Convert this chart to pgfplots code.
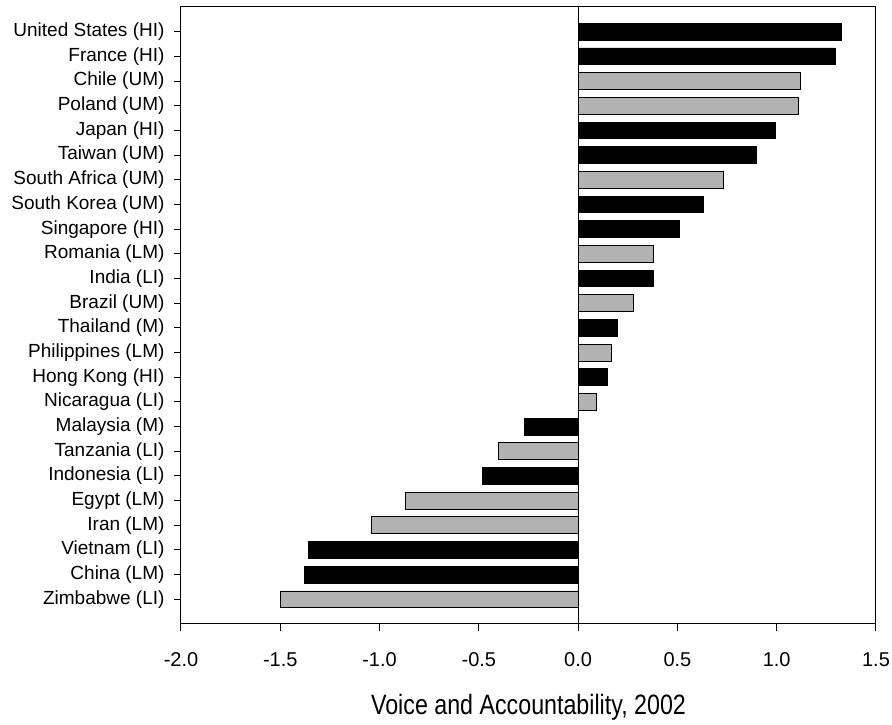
\documentclass[border=0pt]{standalone}
\usepackage{pgfplots}
\pgfplotsset{compat=1.18}
\usepackage{fontspec}
\setmainfont{Liberation Sans}
\newfontfamily\narrowfont{Liberation Sans}[FakeStretch=0.83]
\definecolor{bargray}{RGB}{178,178,178}
\begin{document}
\begin{tikzpicture}
\useasboundingbox (-181pt,-101pt) rectangle (711pt,624pt);
\begin{axis}[
  at={(0pt,0pt)}, anchor=south west,
  scale only axis,
  width=695pt, height=617pt,
  xmin=-2, xmax=1.5, ymin=-1, ymax=24,
  xbar, bar width=0.68, bar shift=0pt,
  xtick={-2,-1.5,-1,-0.5,0,0.5,1,1.5},
  xticklabels={-2.0,-1.5,-1.0,-0.5,0.0,0.5,1.0,1.5},
  ytick={0,...,23},
  yticklabels={Zimbabwe (LI),China (LM),Vietnam (LI),Iran (LM),Egypt (LM),Indonesia (LI),Tanzania (LI),Malaysia (M),Nicaragua (LI),Hong Kong (HI),Philippines (LM),Thailand (M),Brazil (UM),India (LI),Romania (LM),Singapore (HI),South Korea (UM),South Africa (UM),Taiwan (UM),Japan (HI),Poland (UM),Chile (UM),France (HI),United States (HI)},
  tick align=outside, major tick length=7pt,
  xtick pos=bottom, ytick pos=left,
  tick style={black, line width=1pt},
  axis line style={line width=1pt},
  yticklabel style={font=\fontsize{19}{21}\selectfont, xshift=-6pt},
  xticklabel style={font=\fontsize{20}{22}\selectfont, yshift=-18pt},
  xlabel={Voice and Accountability, 2002},
  xlabel style={font=\narrowfont\fontsize{28}{30}\selectfont, yshift=-21pt},
  clip=false,
]
\addplot[fill=black, draw=black, line width=0.8pt] coordinates {
(-1.38,1) (-1.36,2) (-0.48,5) (-0.27,7) (0.146,9) (0.20,11) (0.38,13)
(0.51,15) (0.63,16) (0.896,18) (0.993,19) (1.294,22) (1.324,23)};
\addplot[fill=bargray, draw=black, line width=0.8pt] coordinates {
(-1.50,0) (-1.04,3) (-0.87,4) (-0.40,6) (0.09,8) (0.17,10) (0.28,12)
(0.38,14) (0.732,17) (1.108,20) (1.118,21)};
\draw[black, line width=1pt] (axis cs:0,-1) -- (axis cs:0,24);
\end{axis}
\end{tikzpicture}
\end{document}
